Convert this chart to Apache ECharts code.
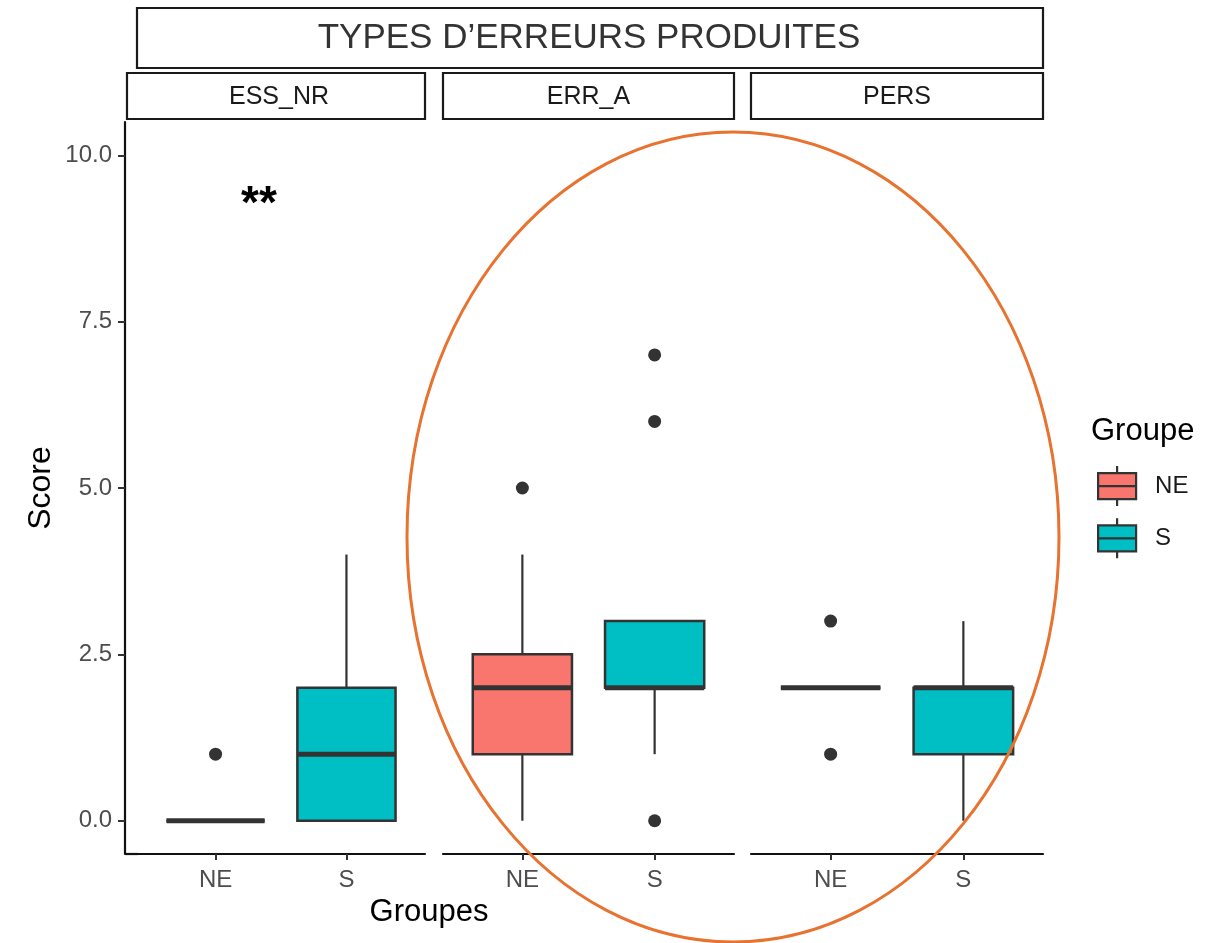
<!DOCTYPE html>
<html>
<head>
<meta charset="utf-8">
<script src="https://cdn.jsdelivr.net/npm/echarts@6/dist/echarts.min.js"></script>
<style>html,body{margin:0;padding:0;background:#fff}#c{width:1209px;height:943px}</style>
</head>
<body>
<div id="c"></div>
<script>
// ---- data ----
const facets = ["ESS_NR", "ERR_A", "PERS"];
const groups = ["NE", "S"];
const yTicks = [0, 2.5, 5, 7.5, 10];
const yTickLabels = ["0.0", "2.5", "5.0", "7.5", "10.0"];
// [min, q1, median, q3, max] per facet, per group
const boxNE = [
  [0, 0, 0, 0, 0],
  [0, 1, 2, 2.5, 4],
  [2, 2, 2, 2, 2]
];
const boxS = [
  [0, 0, 1, 2, 4],
  [1, 2, 2, 3, 3],
  [0, 1, 2, 2, 3]
];
const outNE = [[1], [5], [1, 3]];
const outS = [[], [0, 6, 7], []];
const title = "TYPES D\u2019ERREURS PRODUITES";
const colors = {NE: "#F8766D", S: "#00BFC4"};

// ---- layout ----
const panels = [
  {left: 137, width: 288},
  {left: 443, width: 291},
  {left: 751, width: 292}
];
const gridTop = 122, gridH = 732;
const FONT = "Liberation Sans, Arial, sans-serif";

const chart = echarts.init(document.getElementById('c'));

function renderBox(params, api) {
  const x = api.value(0);
  const mn = api.value(1), q1 = api.value(2), md = api.value(3), q3 = api.value(4), mx = api.value(5);
  const w = api.size([0.75, 0])[0];
  const pMin = api.coord([x, mn]), pQ1 = api.coord([x, q1]), pMd = api.coord([x, md]);
  const pQ3 = api.coord([x, q3]), pMax = api.coord([x, mx]);
  const fill = api.visual('color');
  const st = {stroke: '#333333', lineWidth: 2.2};
  return {
    type: 'group',
    children: [
      {type: 'line', shape: {x1: pMin[0], y1: pMin[1], x2: pQ1[0], y2: pQ1[1]}, style: st},
      {type: 'line', shape: {x1: pQ3[0], y1: pQ3[1], x2: pMax[0], y2: pMax[1]}, style: st},
      {type: 'rect', shape: {x: pQ3[0] - w / 2, y: pQ3[1], width: w, height: pQ1[1] - pQ3[1]},
        style: {fill: fill, stroke: '#333333', lineWidth: 2.5}},
      {type: 'line', shape: {x1: pMd[0] - w / 2, y1: pMd[1], x2: pMd[0] + w / 2, y2: pMd[1]},
        style: {stroke: '#333333', lineWidth: 5, lineCap: 'butt'}}
    ]
  };
}

const grid = [], xAxis = [], yAxis = [], series = [];
panels.forEach((p, i) => {
  grid.push({left: p.left, top: gridTop, width: p.width, height: gridH, containLabel: false});
  xAxis.push({
    type: 'value', gridIndex: i, min: 0.4, max: 2.6,
    axisLine: {show: true, onZero: false, lineStyle: {color: '#111', width: 2.2}},
    axisTick: {show: true, customValues: [1, 2], length: 6, lineStyle: {color: '#333', width: 2}},
    axisLabel: {customValues: [1, 2], formatter: v => groups[Math.round(v) - 1],
      color: '#4d4d4d', fontSize: 24, fontFamily: FONT, margin: 14},
    splitLine: {show: false}
  });
  yAxis.push({
    type: 'value', gridIndex: i, min: -0.5, max: 10.5, show: i === 0,
    offset: 12,
    name: i === 0 ? 'Score' : '', nameLocation: 'middle', nameRotate: 90, nameGap: 68,
    nameTextStyle: {color: '#000', fontSize: 32, fontFamily: FONT},
    axisLine: {show: true, onZero: false, lineStyle: {color: '#111', width: 2.2}},
    axisTick: {show: true, customValues: yTicks, length: 7, lineStyle: {color: '#333', width: 2}},
    axisLabel: {customValues: yTicks, formatter: v => yTickLabels[yTicks.indexOf(v)],
      color: '#4d4d4d', fontSize: 24, fontFamily: FONT, margin: 13},
    splitLine: {show: false}
  });
  [[ 'NE', boxNE[i], 1 ], [ 'S', boxS[i], 2 ]].forEach(([g, b, xi]) => {
    series.push({
      type: 'custom', name: g, xAxisIndex: i, yAxisIndex: i,
      itemStyle: {color: colors[g]},
      encode: {x: 0, y: [1, 2, 3, 4, 5]},
      renderItem: renderBox,
      data: [[xi].concat(b)]
    });
  });
  const pts = [];
  outNE[i].forEach(v => pts.push([1, v]));
  outS[i].forEach(v => pts.push([2, v]));
  series.push({
    type: 'scatter', name: 'outliers', xAxisIndex: i, yAxisIndex: i,
    symbolSize: 13, itemStyle: {color: '#333333', opacity: 1}, data: pts, z: 5
  });
});

const g = [];
// title box
g.push({type: 'rect', shape: {x: 137, y: 8, width: 906, height: 60}, style: {fill: '#fff', stroke: '#1a1a1a', lineWidth: 2.2}});
g.push({type: 'text', x: 589, y: 38, style: {text: title, font: '35px ' + FONT, fill: '#333', align: 'center', verticalAlign: 'middle'}});
// strips
const strips = [{x: 127, w: 298}, {x: 443, w: 291}, {x: 751, w: 292}];
strips.forEach((s, i) => {
  g.push({type: 'rect', shape: {x: s.x, y: 73, width: s.w, height: 46}, style: {fill: '#fff', stroke: '#1a1a1a', lineWidth: 2.2}});
  g.push({type: 'text', x: s.x + s.w / 2 + (i === 0 ? 3 : 0), y: 97, style: {text: facets[i], font: '25px ' + FONT, fill: '#1a1a1a', align: 'center', verticalAlign: 'middle'}});
});
// small joint of axes at bottom-left
g.push({type: 'line', shape: {x1: 125, y1: 854, x2: 138, y2: 854}, style: {stroke: '#111', lineWidth: 2.2}});
// significance mark
g.push({type: 'text', x: 259, y: 205, style: {text: '**', font: 'bold 46px ' + FONT, fill: '#000', align: 'center', verticalAlign: 'middle'}});
// x axis title
g.push({type: 'text', x: 429, y: 912, style: {text: 'Groupes', font: '31px ' + FONT, fill: '#000', align: 'center', verticalAlign: 'middle'}});
// legend title
g.push({type: 'text', x: 1091, y: 431, style: {text: 'Groupe', font: '31px ' + FONT, fill: '#000', align: 'left', verticalAlign: 'middle'}});
// highlight ellipse
g.push({type: 'ellipse', shape: {cx: 733, cy: 537, rx: 326, ry: 405}, style: {fill: 'none', stroke: '#E8722F', lineWidth: 3}, z: 100});

chart.setOption({
  animation: false,
  backgroundColor: '#fff',
  grid: grid, xAxis: xAxis, yAxis: yAxis, series: series,
  legend: {
    data: groups, orient: 'vertical', left: 1092, top: 460,
    itemWidth: 38, itemHeight: 40, itemGap: 10,
    icon: 'path://M0,7 L38,7 L38,33 L0,33 Z M0,20 L38,20 M19,0 L19,7 M19,33 L19,40',
    itemStyle: {borderColor: '#333333', borderWidth: 2.2},
    textStyle: {fontSize: 24, color: '#1a1a1a', fontFamily: FONT, padding: [0, 0, 0, 14]},
    selectedMode: false
  },
  graphic: g
});
</script>
</body>
</html>
